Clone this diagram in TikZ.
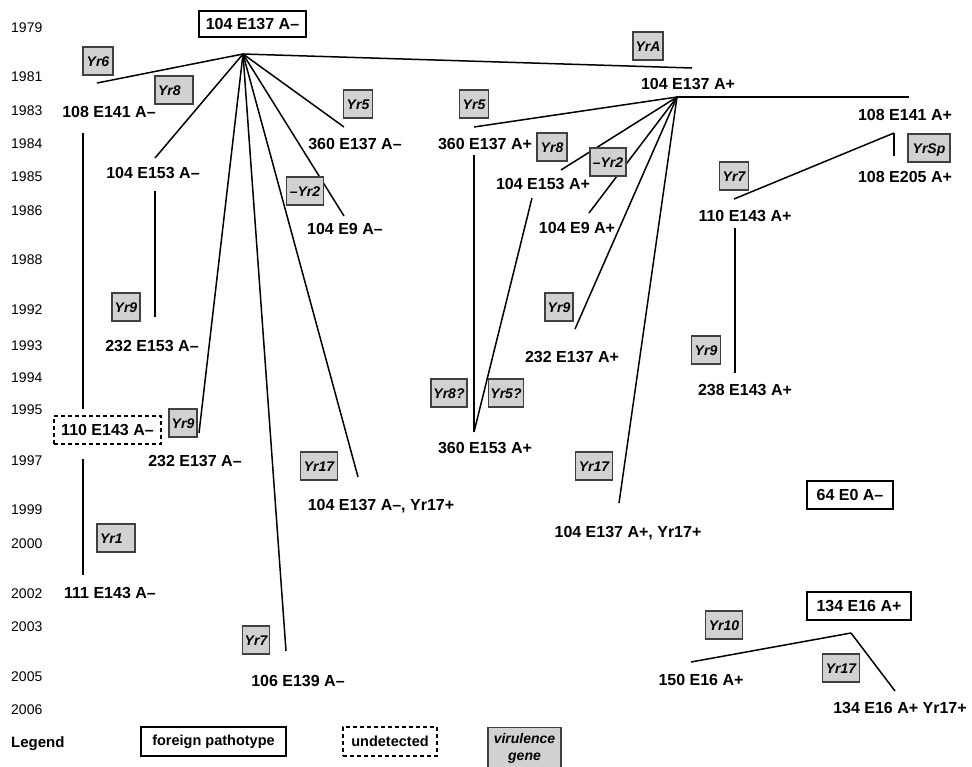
\documentclass[tikz,border=0pt]{standalone}
\usepackage{fontspec}
\setmainfont{Liberation Sans}
\begin{document}
\begin{tikzpicture}[x=1pt,y=-1pt,
  lbl/.style={font=\fontsize{16}{18}\selectfont\bfseries, inner sep=0pt, text height=11pt, text depth=0pt},
  yr/.style={font=\fontsize{14}{16}\selectfont, anchor=west, inner sep=0pt, text height=10pt, text depth=0pt},
  gene/.style={draw=black!75, fill=black!18, line width=1.1pt, minimum height=28pt, inner xsep=2pt, inner ysep=0pt,
    font=\fontsize{14}{16}\selectfont\bfseries\itshape, text height=10pt, text depth=0pt, minimum width=#1},
  geneL/.style={gene=#1, text width=#1-6pt, align=left},
  frame/.style={draw, line width=1.3pt, fill=white, inner sep=0pt, minimum height=#1},
  undet/.style={frame=#1, dash pattern=on 4pt off 3pt},
  conn/.style={line width=1.5pt}]
\useasboundingbox (0,0) rectangle (972,766);

% years
\foreach \yy/\yv in {1979/27,1981/76,1983/110,1984/143,1985/176,1986/210,1988/259,1992/309,1993/345,1994/377,1995/409,1997/460,1999/509,2000/543,2002/593,2003/626,2005/676,2006/709}
  \node[yr] (y\yy) at (11,\yv) {\yy};
\node[yr, font=\fontsize{15}{17}\selectfont\bfseries] (legend) at (11,742) {Legend};

% branch points and connector ends
\coordinate (P1) at (243,54);
\coordinate (P2) at (677,97);
\coordinate (P3) at (851,633);
\coordinate (e6) at (97,83);
\coordinate (e8) at (155,158);
\coordinate (v1a) at (155,191);
\coordinate (v1b) at (155,317);
\coordinate (v2a) at (83,133);
\coordinate (v2b) at (83,409);
\coordinate (v3a) at (83,459);
\coordinate (v3b) at (83,575);
\coordinate (e9a) at (199,433);
\coordinate (e7a) at (286,651);
\coordinate (e17a) at (358,477);
\coordinate (e5a) at (344,127);
\coordinate (e2a) at (344,216);
\coordinate (eA) at (692,68);
\coordinate (h1) at (909,97);
\coordinate (sp1) at (894,133);
\coordinate (sp2) at (894,156);
\coordinate (e7b) at (734,199);
\coordinate (v4a) at (735,228);
\coordinate (v4b) at (735,373);
\coordinate (e5b) at (474,127);
\coordinate (v5a) at (474,155);
\coordinate (v5b) at (474,432);
\coordinate (e8b) at (532,198);
\coordinate (e8c) at (561,170);
\coordinate (e2b) at (589,213);
\coordinate (e9b) at (575,329);
\coordinate (e17b) at (619,503);
\coordinate (e10) at (691,662);
\coordinate (e17c) at (895,691);

% connectors
\draw[conn] (P1) -- (e6);
\draw[conn] (P1) -- (e8);
\draw[conn] (v1a) -- (v1b);
\draw[conn] (v2a) -- (v2b);
\draw[conn] (v3a) -- (v3b);
\draw[conn] (P1) -- (e9a);
\draw[conn] (P1) -- (e7a);
\draw[conn] (P1) -- (e17a);
\draw[conn] (P1) -- (e5a);
\draw[conn] (P1) -- (e2a);
\draw[conn] (P1) -- (eA);
\draw[conn] (P2) -- (h1);
\draw[conn] (sp1) -- (sp2);
\draw[conn] (sp1) -- (e7b);
\draw[conn] (v4a) -- (v4b);
\draw[conn] (P2) -- (e5b);
\draw[conn] (v5a) -- (v5b);
\draw[conn] (v5b) -- (e8b);
\draw[conn] (P2) -- (e8c);
\draw[conn] (P2) -- (e2b);
\draw[conn] (P2) -- (e9b);
\draw[conn] (P2) -- (e17b);
\draw[conn] (P3) -- (e10);
\draw[conn] (P3) -- (e17c);

% pathotype labels
\node[frame=26pt, minimum width=107pt, lbl] (root) at (252.5,24) {104 E137 A–};
\node[lbl] (a108E141m) at (109,112) {108 E141 A–};
\node[lbl] (a104E153m) at (153,173) {104 E153 A–};
\node[lbl] (a232E153m) at (152,346) {232 E153 A–};
\node[undet=28pt, minimum width=107pt, lbl] (a110E143m) at (107.5,430) {110 E143 A–};
\node[lbl] (a111E143m) at (110,593) {111 E143 A–};
\node[lbl] (a232E137m) at (195,461) {232 E137 A–};
\node[lbl] (a106E139m) at (298,681) {106 E139 A–};
\node[lbl] (a104E137mYr) at (381,505) {104 E137 A–, Yr17+};
\node[lbl] (a360E137m) at (355,144) {360 E137 A–};
\node[lbl] (a104E9m) at (345,229) {104 E9 A–};
\node[lbl] (a104E137p) at (688,84) {104 E137 A+};
\node[lbl] (a108E141p) at (905,115) {108 E141 A+};
\node[lbl] (a108E205p) at (905,177) {108 E205 A+};
\node[lbl] (a110E143p) at (745,216) {110 E143 A+};
\node[lbl] (a238E143p) at (745,390) {238 E143 A+};
\node[lbl] (a360E137p) at (485,144) {360 E137 A+};
\node[lbl] (a360E153p) at (485,448) {360 E153 A+};
\node[lbl] (a104E153p) at (543,184) {104 E153 A+};
\node[lbl] (a104E9p) at (577,228) {104 E9 A+};
\node[lbl] (a232E137p) at (572,357) {232 E137 A+};
\node[lbl] (a104E137pYr) at (628,532) {104 E137 A+, Yr17+};
\node[frame=28pt, minimum width=86pt, lbl] (a64E0m) at (850,495) {64 E0 A–};
\node[frame=28pt, minimum width=104pt, lbl] (a134E16p) at (859,606) {134 E16 A+};
\node[lbl] (a150E16p) at (701,680) {150 E16 A+};
\node[lbl] (a134E16pYr) at (900,708) {134 E16 A+ Yr17+};

% virulence genes
\node[gene=30pt] (g6) at (98,61) {Yr6};
\node[geneL=38pt] (g8a) at (174,90) {Yr8};
\node[gene=28pt] (g9a) at (126,307) {Yr9};
\node[geneL=38pt] (g1) at (116,538) {Yr1};
\node[gene=28pt] (g9b) at (183,423) {Yr9};
\node[gene=27pt] (g7a) at (256,640) {Yr7};
\node[gene=37pt] (g17a) at (319,466) {Yr17};
\node[gene=29pt] (g5a) at (358,104) {Yr5};
\node[gene=37pt] (g2a) at (305,191) {–Yr2};
\node[gene=30pt] (gA) at (648,46) {YrA};
\node[gene=29pt] (g5b) at (474,104) {Yr5};
\node[gene=30pt] (g8b) at (552,147) {Yr8};
\node[gene=36pt] (g2b) at (608,162) {–Yr2};
\node[gene=28pt] (g9c) at (559,307) {Yr9};
\node[gene=37pt] (g17b) at (594,466) {Yr17};
\node[gene=36pt] (g8q) at (449,393) {Yr8?};
\node[gene=35pt] (g5q) at (506,393) {Yr5?};
\node[gene=42pt] (gSp) at (929,148) {YrSp};
\node[gene=29pt] (g7b) at (734,176) {Yr7};
\node[gene=29pt] (g9d) at (706,350) {Yr9};
\node[gene=37pt] (g10) at (724,625) {Yr10};
\node[gene=37pt] (g17c) at (841,668) {Yr17};

% legend
\node[frame=29pt, minimum width=145pt, font=\fontsize{14.5}{17}\selectfont\bfseries] (lgF) at (213.5,741.5) {foreign pathotype};
\node[undet=29pt, minimum width=94pt, font=\fontsize{14.5}{17}\selectfont\bfseries] (lgU) at (390,741.5) {undetected};
\node[draw=black!75, fill=black!18, line width=1.1pt, anchor=north, minimum width=73pt, minimum height=42pt, inner sep=1pt,
  align=center, font=\fontsize{14}{16.5}\selectfont\bfseries\itshape] (lgV) at (524.5,727) {virulence\\gene};
\end{tikzpicture}
\end{document}
